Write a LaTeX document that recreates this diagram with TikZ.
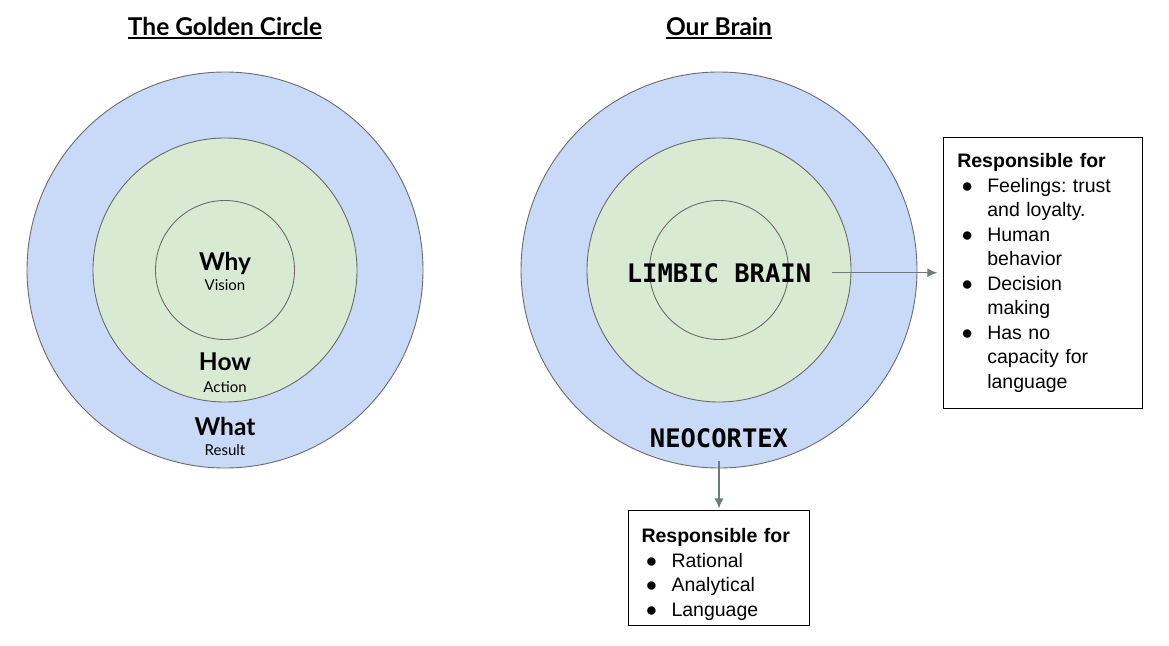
\documentclass[tikz,border=0pt]{standalone}
\usepackage{fontspec}
\setmainfont{Liberation Sans}
\newfontfamily\headfont{Lato}
\newfontfamily\brainfont{DejaVu Sans Mono}
\usetikzlibrary{arrows.meta,positioning}
\definecolor{ringblue}{HTML}{C9DAF8}
\definecolor{ringgreen}{HTML}{D9EAD3}
\definecolor{ringline}{HTML}{6B6B6B}
\definecolor{arrowgray}{HTML}{6D7B7B}
\frenchspacing
\newcommand{\headul}[1]{\setbox0\hbox{#1}\rlap{\copy0}\rule[-4pt]{\wd0}{1.8pt}}
\newcommand{\bul}{\makebox[30pt][l]{\hspace{4pt}●}}
\newcommand{\ind}{\hspace*{30pt}}
\tikzset{
  ring/.style={circle,draw=ringline,line width=0.9pt,inner sep=0pt},
  outerring/.style={ring,fill=ringblue,minimum size=396pt},
  midring/.style={ring,fill=ringgreen,minimum size=264pt},
  corering/.style={ring,fill=ringgreen,minimum size=139pt},
  title/.style={font=\headfont\bfseries\fontsize{24.5}{26}\selectfont,inner sep=0pt,anchor=base},
  circlename/.style={font=\headfont\bfseries\fontsize{24.5}{26}\selectfont,inner sep=0pt,anchor=base},
  circlesub/.style={font=\headfont\fontsize{15}{16}\selectfont,inner sep=0pt,anchor=base},
  brainpart/.style={font=\brainfont\bfseries\fontsize{25.5}{28}\selectfont,inner sep=0pt,anchor=base},
  infobox/.style={draw=black,line width=0.9pt,fill=white,align=left,outer sep=0pt,font=\fontsize{19.5}{24.5}\selectfont},
  flow/.style={-{Latex[length=10pt,width=9pt]},line width=1.3pt,draw=arrowgray}
}
\begin{document}
\begin{tikzpicture}[x=1pt,y=-1pt]
\useasboundingbox[fill=white] (0,0) rectangle (1169,645);

% golden circle
\node[outerring] (goldout) at (225,270) {};
\node[midring] (goldmid) at (225,270) {};
\node[corering] (goldcore) at (225,270) {};
\node[title] (goldtitle) at (225,35) {\headul{The Golden Circle}};
\node[circlename] (why) at (225,270) {Why};
\node[circlesub] (vision) at (225,290) {Vision};
\node[circlename] (how) at (225,370) {How};
\node[circlesub] (action) at (225,392) {Action};
\node[circlename] (what) at (225,435) {What};
\node[circlesub] (result) at (225,455) {Result};

% brain
\node[outerring] (brainout) at (719,270) {};
\node[midring] (brainmid) at (719,270) {};
\node[corering] (braincore) at (719,270) {};
\node[title] (braintitle) at (719,35) {\headul{Our Brain}};
\node[brainpart] (limbic) at (719,282) {LIMBIC BRAIN};
\node[brainpart] (neocortex) at (719,447) {NEOCORTEX};

\node[infobox,text width=171pt,inner xsep=14pt,inner ysep=16pt,minimum height=271pt,right=132pt of limbic] (respA) {\textbf{Responsible for}\\
\bul Feelings: trust\\
\ind and loyalty.\\
\bul Human\\
\ind behavior\\
\bul Decision\\
\ind making\\
\bul Has no\\
\ind capacity for\\
\ind language};
\node[infobox,text width=155pt,inner xsep=13pt,inner ysep=4pt,minimum height=115pt,below=42pt of brainout] (respB) {\rule{0pt}{27pt}\textbf{Responsible for}\\
\bul Rational\\
\bul Analytical\\
\bul Language};

\draw[flow,shorten <=21pt,shorten >=6pt] (limbic) -- (respA);
\draw[flow,shorten <=13pt,shorten >=2pt] (neocortex) -- (respB);
\end{tikzpicture}
\end{document}
